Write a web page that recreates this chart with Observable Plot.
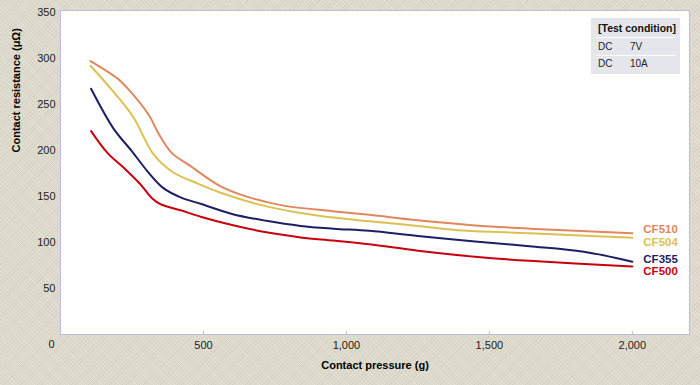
<!DOCTYPE html>
<html>
<head>
<meta charset="utf-8">
<script src="https://cdn.jsdelivr.net/npm/d3@7"></script>
<script src="https://cdn.jsdelivr.net/npm/@observablehq/plot@0.6"></script>
<style>
  html, body { margin: 0; padding: 0; background: #dddacc; }
  #wrap { position: relative; width: 700px; height: 385px; overflow: hidden;
    background-color: #dddacc;
    background-image: repeating-linear-gradient(45deg, rgba(255,255,255,0.18) 0 1px, transparent 1px 3px),
                      repeating-linear-gradient(-45deg, rgba(0,0,0,0.04) 0 1px, transparent 1px 3px);
    font-family: "Liberation Sans", Arial, Helvetica, sans-serif; }
  #cond { position: absolute; left: 591px; top: 18px; width: 89px; height: 56px; background: #e5e6eb; color: #222; font-size: 10px; }
  #cond div { position: absolute; white-space: nowrap; }
  #cond .sep { height: 1px; background: #fff; left: 5px; width: 79px; }
</style>
</head>
<body>
<div id="wrap"></div>
<script>
// ---- data ----
const seriesNames = ["CF510", "CF504", "CF355", "CF500"];
const seriesColors = ["#e0875d", "#dcc152", "#1c1f66", "#c8000e"];

const pressure510 = [105, 200, 230, 310, 340, 390, 450, 560, 660, 780, 950, 1080, 1250, 1450, 1640, 2000];
const resistance510 = [297, 278, 269, 238, 220, 197, 184, 161, 149, 140, 134, 130, 124, 118.5, 115, 110];

const pressure504 = [105, 190, 255, 325, 395, 480, 560, 710, 840, 955, 1080, 1250, 1410, 1640, 2000];
const resistance504 = [292, 262, 236, 196, 176, 164, 154, 140, 132, 127, 123, 118, 113, 110, 105];

const pressure355 = [107, 185, 250, 305, 360, 420, 490, 600, 720, 840, 955, 1080, 1250, 1450, 1640, 1830, 2000];
const resistance355 = [267, 224, 199, 177, 159, 149, 142, 131, 123.5, 118, 115, 112.6, 107, 101, 96, 90, 79];

const pressure500 = [107, 165, 225, 280, 320, 350, 420, 490, 600, 720, 840, 955, 1080, 1250, 1450, 1640, 2000];
const resistance500 = [221, 197, 180, 163, 148, 141.5, 135, 128, 119, 111, 105.5, 102, 98, 91, 84.5, 80, 74];

const xTicks = [500, 1000, 1500, 2000];
const yTicks = [50, 100, 150, 200, 250, 300, 350];

const conditionTitle = "[Test condition]";
const conditionRows = [["DC", "7V"], ["DC", "10A"]];

// ---- build table ----
const pressures = [pressure510, pressure504, pressure355, pressure500];
const resistances = [resistance510, resistance504, resistance355, resistance500];
const rows = [];
seriesNames.forEach((name, i) => {
  pressures[i].forEach((p, j) => rows.push({series: name, pressure: p, resistance: resistances[i][j]}));
});
const lastRows = seriesNames.map((name, i) => ({
  series: name, pressure: pressures[i][pressures[i].length - 1], resistance: resistances[i][resistances[i].length - 1]
}));
const labelNudge = {CF510: -3.5, CF504: 4.5, CF355: -2.5, CF500: 5};

const font = '"Liberation Sans", Arial, Helvetica, sans-serif';
const frameColor = "#bcbcd8";

const chart = Plot.plot({
  width: 700,
  height: 385,
  marginLeft: 60,
  marginRight: 11,
  marginTop: 10,
  marginBottom: 51,
  style: {fontFamily: font, fontSize: "11px", background: "transparent", color: "#222"},
  x: {domain: [0, 2200]},
  y: {domain: [0, 352]},
  color: {domain: seriesNames, range: seriesColors},
  marks: [
    Plot.frame({fill: "white", stroke: frameColor}),
    Plot.axisY({ticks: yTicks, tickSize: 0, tickPadding: 5, label: null, fill: "#222"}),
    Plot.axisX({ticks: xTicks, tickFormat: d3.format(","), tickSize: -3, tickPadding: 10, label: null, stroke: frameColor, fill: "#222"}),
    Plot.text(["0"], {x: () => 0, y: () => 0, text: d => d, dx: -9, dy: 10, fill: "#222"}),
    Plot.line(rows, {x: "pressure", y: "resistance", z: "series", stroke: "series", strokeWidth: 2, curve: "catmull-rom"}),
    ...lastRows.map(d => Plot.text([d], {
      x: "pressure", y: "resistance", text: "series", fill: "series",
      textAnchor: "start", dx: 11, dy: labelNudge[d.series], fontWeight: "bold", fontSize: 11.5
    })),
    Plot.text(["Contact pressure (g)"], {frameAnchor: "bottom", text: d => d, dy: 34, fontWeight: "bold", fontSize: 11, fill: "#000"}),
    Plot.text(["Contact resistance (\u03bc\u03a9)"], {frameAnchor: "left", text: d => d, rotate: -90, dx: -44, dy: -20, fontWeight: "bold", fontSize: 11, fill: "#000"})
  ]
});

const wrap = document.getElementById("wrap");
wrap.appendChild(chart);

// test condition box
const box = document.createElement("div");
box.id = "cond";
const t = document.createElement("div");
t.textContent = conditionTitle;
t.style.cssText = "left:7px;top:4px;font-weight:bold;font-size:10.5px;color:#111";
box.appendChild(t);
conditionRows.forEach((r, i) => {
  const sep = document.createElement("div");
  sep.className = "sep";
  sep.style.top = (19 + i * 18) + "px";
  box.appendChild(sep);
  const a = document.createElement("div");
  a.textContent = r[0];
  a.style.cssText = `left:7px;top:${23 + i * 17}px`;
  const b = document.createElement("div");
  b.textContent = r[1];
  b.style.cssText = `left:39px;top:${23 + i * 17}px`;
  box.appendChild(a); box.appendChild(b);
});
wrap.appendChild(box);
</script>
</body>
</html>
